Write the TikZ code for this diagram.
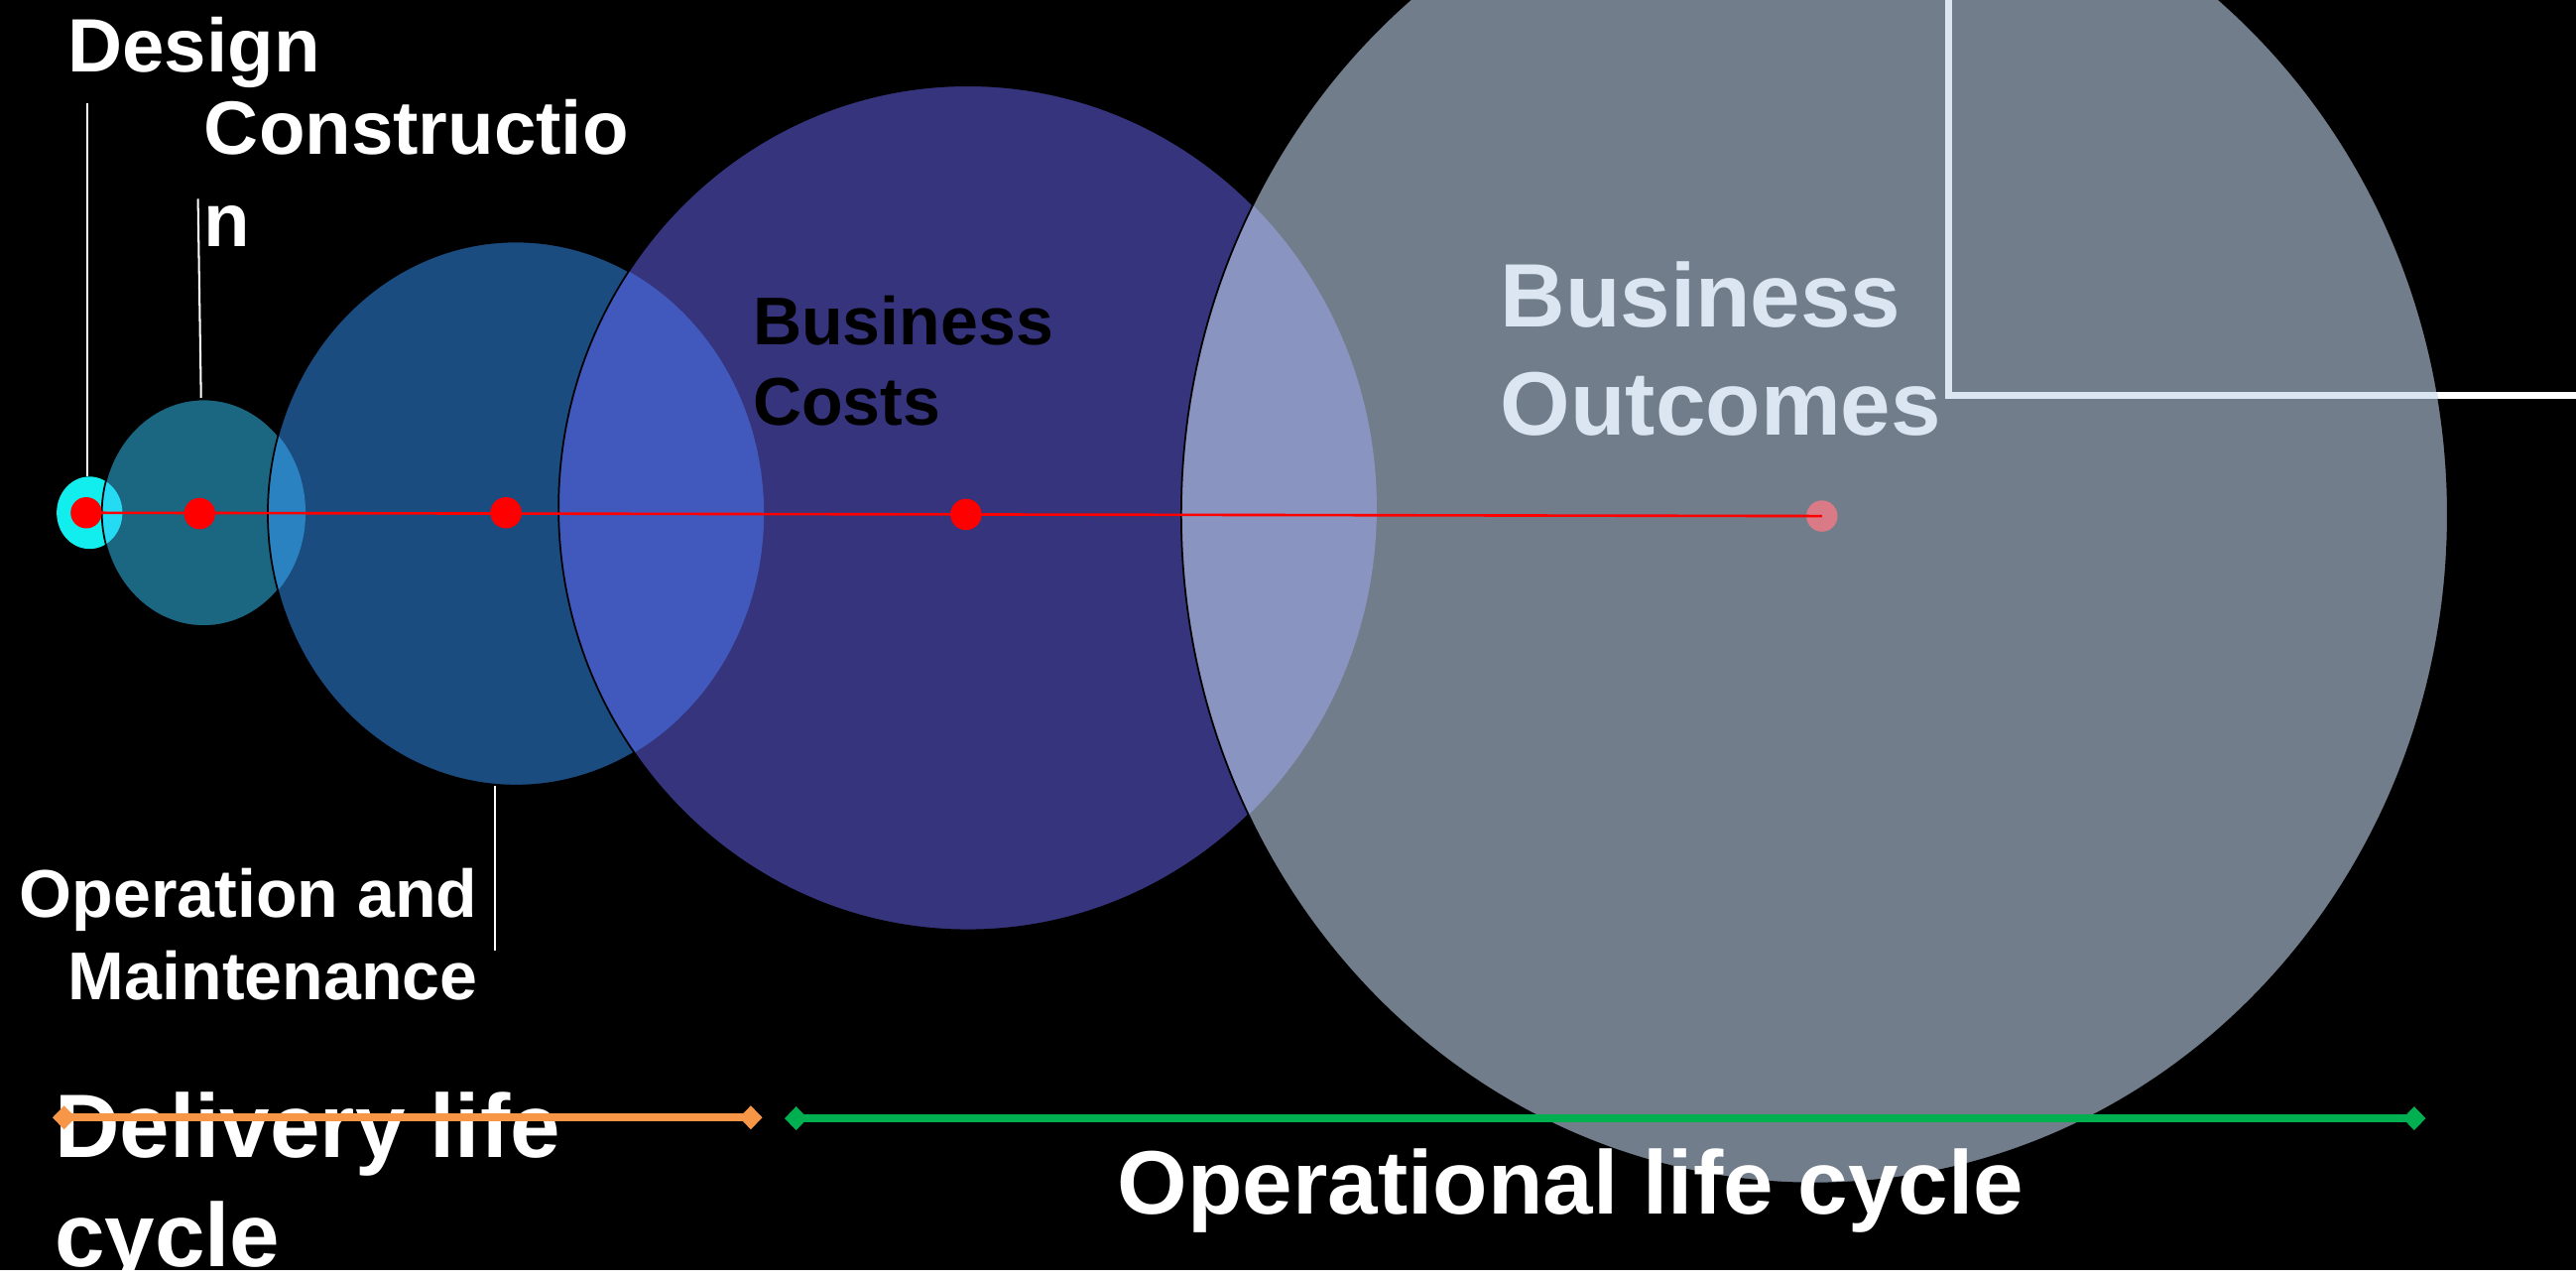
\documentclass[tikz,border=0pt]{standalone}
\usepackage{fontspec}
\setmainfont{Liberation Sans}
\usetikzlibrary{arrows.meta}
\definecolor{cDesign}{HTML}{12EEEE}
\definecolor{cDC}{HTML}{25DAF3}
\definecolor{cCons}{HTML}{1B6680}
\definecolor{cCO}{HTML}{2A82C1}
\definecolor{cOM}{HTML}{1B4C80}
\definecolor{cOB}{HTML}{4159BC}
\definecolor{cCost}{HTML}{35347D}
\definecolor{cBO}{HTML}{8A94C0}
\definecolor{cOut}{HTML}{717D8B}
\definecolor{cLight}{HTML}{DCE6F2}
\definecolor{cPink}{HTML}{DB7A87}
\definecolor{cOrange}{HTML}{F79646}
\definecolor{cGreen}{HTML}{00B050}
\begin{document}
\begin{tikzpicture}[x=0.02cm,y=-0.02cm,
  outl/.style={draw=black,line width=0.6pt},
  dot/.style={circle,fill=red,minimum size=0.38cm,inner sep=0pt},
  ptr/.style={draw=white,line width=0.7pt},
  lbl/.style={inner sep=0pt,text=white,font=\bfseries},
  small/.style={lbl,font=\bfseries\fontsize{26.2}{30}\selectfont},
  om/.style={lbl,font=\bfseries\fontsize{23.4}{28}\selectfont},
  cost/.style={lbl,text=black,font=\bfseries\fontsize{23.4}{28}\selectfont},
  big/.style={lbl,font=\bfseries\fontsize{31.2}{36}\selectfont},
  span/.style={line width=2.8pt,{Diamond[length=0.28cm,width=0.29cm]}-{Diamond[length=0.28cm,width=0.29cm]}}]
\def\Ea{(54.5,312) ellipse [x radius=20, y radius=22]}
\def\Eb{(124,312) ellipse [x radius=62, y radius=69]}
\def\Ec{(314,312.5) ellipse [x radius=151, y radius=165.5]}
\def\Ed{(589,309) ellipse [x radius=249, y radius=257]}
\def\Ee{(1104.5,313) ellipse [x radius=385.5, y radius=407]}
\useasboundingbox (0,0) rectangle (1568,779);
\fill[white] (0,0) rectangle (1568,779);
\fill[black] (0,0) rectangle (1568,773);
\begin{scope}
\clip (0,0) rectangle (1568,773);
% design
\fill[cDesign] \Ea;
% construction
\fill[cCons] \Eb;
\begin{scope}\clip \Ea; \fill[cDC] \Eb;\end{scope}
\draw[outl] \Eb;
% operation & maintenance
\fill[cOM] \Ec;
\begin{scope}\clip \Eb; \fill[cCO] \Ec;\end{scope}
\draw[outl] \Ec;
% business costs
\fill[cCost] \Ed;
\begin{scope}\clip \Ec; \fill[cOB] \Ed;\end{scope}
\draw[outl] \Ed;
% business outcomes
\fill[cOut] \Ee;
\begin{scope}\clip \Ed; \fill[cBO] \Ee;\end{scope}
\draw[outl] \Ee;
% L-shaped line
\coordinate (la) at (1186,-5);
\coordinate (lb) at (1186,240.5);
\coordinate (lc) at (1575,240.5);
\draw[white,line width=2.3pt] (la) -- (lb) -- (lc);
\begin{scope}\clip \Ee; \draw[cLight,line width=2.3pt] (la) -- (lb) -- (lc);\end{scope}
\end{scope}
% dots and red line
\node[dot] (d1) at (52.5,312) {};
\node[dot] (d2) at (121.5,312.5) {};
\node[dot] (d3) at (308,312) {};
\node[dot] (d4) at (588,313) {};
\node[dot,fill=cPink] (d5) at (1109,314) {};
\draw[red,line width=0.9pt] (d1.center) -- (d5.center);
% pointer lines
\coordinate (pa1) at (53,63);   \coordinate (pa2) at (53,290);
\coordinate (pb1) at (120.5,121); \coordinate (pb2) at (122.4,242);
\coordinate (pc1) at (301,478); \coordinate (pc2) at (301,578.5);
\draw[ptr] (pa1) -- (pa2);
\draw[ptr] (pb1) -- (pb2);
\draw[ptr] (pc1) -- (pc2);
% labels
\node[small,anchor=base west] (tdesign) at (41,44) {Design};
\node[small,anchor=base west] (tcons1) at (124,94) {Constructio};
\node[small,anchor=base west] (tcons2) at (124,150) {n};
\node[om,anchor=base east] (tom1) at (291,558) {Operation and};
\node[om,anchor=base east] (tom2) at (291,608) {Maintenance};
\node[cost,anchor=base west] (tbc1) at (458,210) {Business};
\node[cost,anchor=base west] (tbc2) at (458,259) {Costs};
\node[big,text=cLight,anchor=base west] (tbo1) at (913,199) {Business};
\node[big,text=cLight,anchor=base west] (tbo2) at (913,265) {Outcomes};
\begin{scope}
\clip (0,0) rectangle (1568,773);
\node[big,anchor=base west] (tdl1) at (33,704) {Delivery life};
\node[big,anchor=base west] (tdl2) at (33,770.5) {cycle};
\end{scope}
\node[big,anchor=base west] (tol) at (680,738.6) {Operational life cycle};
% life cycle spans
\coordinate (o1) at (32,680); \coordinate (o2) at (464,680);
\coordinate (g1) at (477.6,680.5); \coordinate (g2) at (1476.5,680.5);
\draw[span,cOrange] (o1) -- (o2);
\draw[span,cGreen] (g1) -- (g2);
\end{tikzpicture}
\end{document}
